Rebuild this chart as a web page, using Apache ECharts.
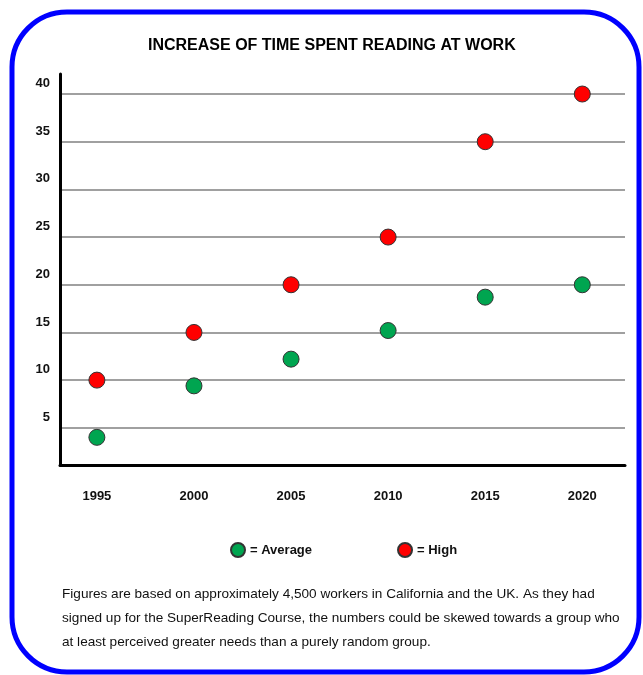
<!DOCTYPE html>
<html>
<head>
<meta charset="utf-8">
<script src="https://cdn.jsdelivr.net/npm/echarts@6/dist/echarts.min.js"></script>
<style>
html,body{margin:0;padding:0;background:#fff;}
#c{width:643px;height:675px;}
</style>
</head>
<body>
<div id="c"></div>
<script>
const titleText = 'INCREASE OF TIME SPENT READING AT WORK';
const years = [1995, 2000, 2005, 2010, 2015, 2020];
const averageValues = [4, 9.4, 12.2, 15.2, 18.7, 20];
const highValues = [10, 15, 20, 25, 35, 40];
const yTicks = [5, 10, 15, 20, 25, 30, 35, 40];
const seriesNames = ['Average', 'High'];
const footnote = 'Figures are based on approximately 4,500 workers in California and the UK. As they had\nsigned up for the SuperReading Course, the numbers could be skewed towards a group who\nat least perceived greater needs than a purely random group.';

const font = "'Liberation Sans', Arial, sans-serif";
const chart = echarts.init(document.getElementById('c'), null, {renderer: 'canvas'});
chart.setOption({
  animation: false,
  backgroundColor: '#fff',
  title: {
    text: titleText, left: 143, top: 33,
    textStyle: {fontFamily: font, fontSize: 16, fontWeight: 'bold', color: '#000'}
  },
  grid: {left: 60, right: 18, top: 74, bottom: 210},
  xAxis: {
    type: 'value', min: 1993.1, max: 2022.2,
    axisLine: {show: true, lineStyle: {color: '#000', width: 3}},
    axisTick: {show: false},
    splitLine: {show: false},
    axisLabel: {customValues: years, formatter: v => String(v), margin: 25, fontFamily: font, fontSize: 13, fontWeight: 'bold', color: '#111'}
  },
  yAxis: {
    type: 'value', min: 1.1, max: 42.1,
    axisLine: {show: true, onZero: false, lineStyle: {color: '#000', width: 3}},
    axisTick: {show: false, customValues: yTicks},
    splitLine: {show: true, lineStyle: {color: '#808080', width: 1.5}},
    axisLabel: {customValues: yTicks, margin: 10, verticalAlign: 'bottom', padding: [0,0,4,0], fontFamily: font, fontSize: 13, fontWeight: 'bold', color: '#111'}
  },
  legend: {
    left: 225, top: 537, itemWidth: 14, itemHeight: 14, itemGap: 85,
    icon: 'circle',
    formatter: '= {name}',
    textStyle: {fontFamily: font, fontSize: 13, fontWeight: 'bold', color: '#111'},
    data: seriesNames
  },
  series: [
    {name: seriesNames[0], type: 'scatter', symbolSize: 16,
     itemStyle: {color: '#00A550', borderColor: '#333', borderWidth: 1, opacity: 1},
     data: years.map((y, i) => [y, averageValues[i]])},
    {name: seriesNames[1], type: 'scatter', symbolSize: 16,
     itemStyle: {color: '#FF0000', borderColor: '#333', borderWidth: 1, opacity: 1},
     data: years.map((y, i) => [y, highValues[i]])}
  ],
  graphic: [
    {type: 'rect', shape: {x: 12, y: 12, width: 627, height: 660, r: 55},
     style: {fill: 'none', stroke: '#0000FF', lineWidth: 5}, silent: true},
    {type: 'text', left: 62, top: 582,
     style: {text: footnote, font: "13.6px " + font, fill: '#111', lineHeight: 24}}
  ]
});
</script>
</body>
</html>
